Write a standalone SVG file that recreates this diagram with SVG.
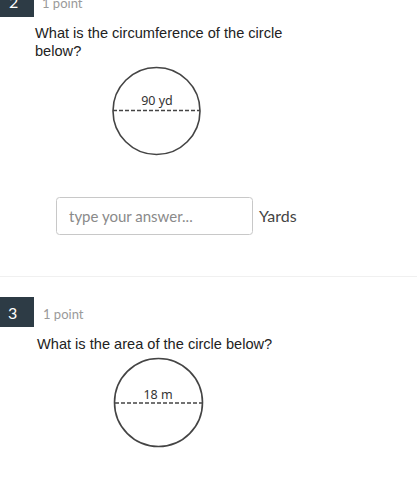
<svg xmlns="http://www.w3.org/2000/svg" width="417" height="501" viewBox="0 0 417 501">
<style>
.badge{fill:#2d3b45}
.num{font-family:"Lato","Liberation Sans",sans-serif;font-size:16px;fill:#ffffff}
.pts{font-family:"Lato","Liberation Sans",sans-serif;font-size:13px;fill:#9a9a9a}
.q{font-family:"Liberation Sans",Arial,sans-serif;font-size:14.6px;fill:#222222}
.circ{fill:none;stroke:#444444;stroke-width:1.6}
.dash{stroke:#444444;stroke-width:1.4;stroke-dasharray:4 2}
.lbl{font-family:"Noto Sans","Liberation Sans",sans-serif;font-size:12.5px;fill:#333333;text-anchor:middle}
</style>
<rect width="417" height="501" fill="#ffffff"/>
<g id="q2-header">
<rect class="badge" x="0" y="-14" width="34" height="31"/>
<text class="num" x="9" y="8">2</text>
<text class="pts" x="42" y="8">1 point</text>
</g>
<g id="q2-text">
<text class="q" x="35" y="38">What is the circumference of the circle</text>
<text class="q" x="35" y="56">below?</text>
</g>
<g id="q2-circle">
<circle class="circ" cx="156.5" cy="111" r="43.5"/>
<line class="dash" x1="113" y1="110.5" x2="200" y2="110.5"/>
<text class="lbl" x="157" y="105">90 yd</text>
</g>
<g id="q2-answer">
<rect x="56.5" y="197.5" width="196" height="37" rx="3" fill="#ffffff" stroke="#c8c8c8"/>
<text x="69" y="222" font-family="Lato,'Liberation Sans',sans-serif" font-size="15" fill="#8a8a8a">type your answer...</text>
<text x="259" y="222" font-family="Lato,'Liberation Sans',sans-serif" font-size="16" fill="#444444">Yards</text>
</g>
<line x1="0" y1="276.5" x2="417" y2="276.5" stroke="#f0f0f0" stroke-width="1"/>
<g id="q3-header">
<rect class="badge" x="0" y="297" width="34" height="30"/>
<text class="num" x="8" y="319">3</text>
<text class="pts" x="43" y="319">1 point</text>
</g>
<g id="q3-text">
<text class="q" x="37" y="349">What is the area of the circle below?</text>
</g>
<g id="q3-circle">
<circle class="circ" cx="158.5" cy="402.5" r="44"/>
<line class="dash" x1="115" y1="403" x2="202" y2="403"/>
<text class="lbl" x="158" y="399">18 m</text>
</g>
</svg>
